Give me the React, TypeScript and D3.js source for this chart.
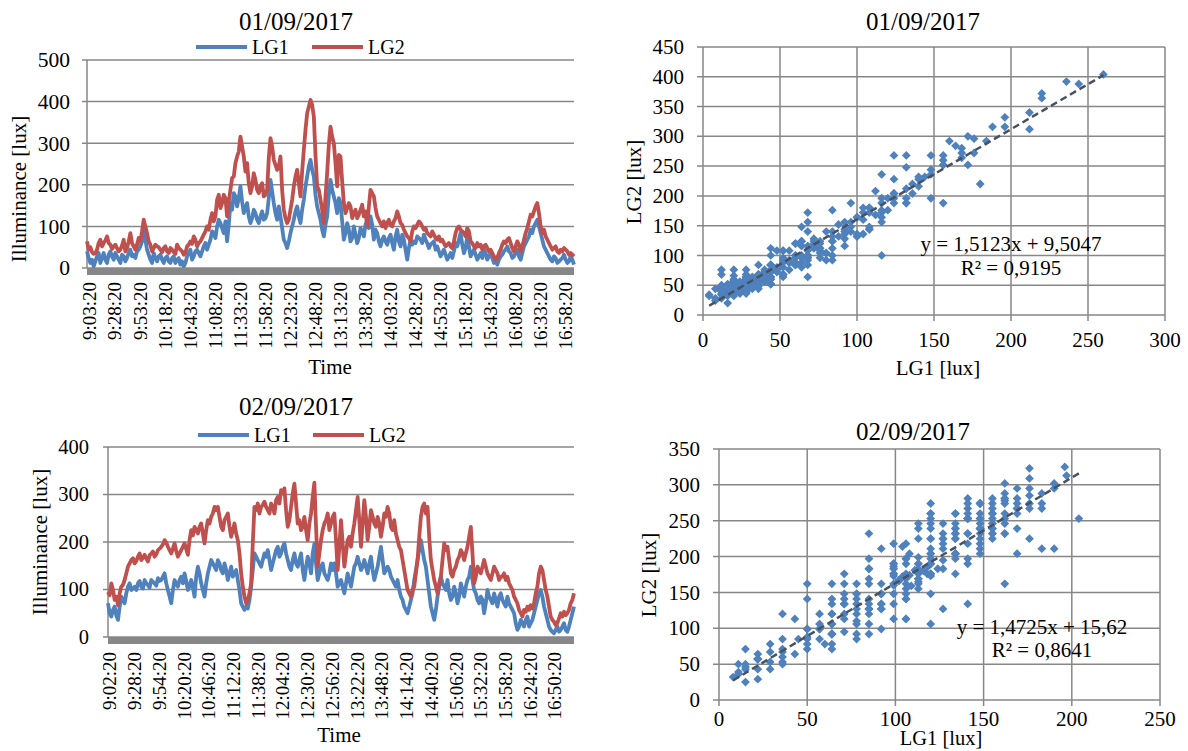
import React, { useEffect } from "react";
import * as d3 from "d3";

const BLUE = "#4F81BD";
const RED = "#C0504D";
const GRID = "#878787";
const TREND = "#48515e";
const FONT = "'Liberation Serif', 'Times New Roman', serif";

// 01/09/2017 readings (lux), one every 1:40 from 9:00:20
const DAY1_START = "9:00:20";
const DAY1_STEP = 100;
const DAY1_LG1 = [
  40, 24, 12, 20, 4, 16, 28, 36, 12, 24, 36, 20, 12, 32, 40, 28, 20, 36, 28, 20,
  12, 32, 28, 16, 24, 36, 44, 28, 32, 24, 40, 44, 52, 64, 92, 68, 44, 32, 20, 12,
  36, 24, 16, 28, 32, 20, 12, 24, 28, 16, 12, 24, 28, 12, 20, 24, 8, 16, 4, 12,
  28, 36, 44, 20, 28, 40, 44, 36, 28, 40, 52, 60, 44, 56, 68, 88, 84, 72, 100, 116,
  108, 96, 84, 112, 64, 104, 156, 140, 180, 172, 148, 168, 196, 160, 132, 144, 156, 124, 108, 120,
  140, 132, 116, 108, 124, 136, 116, 120, 132, 168, 212, 184, 156, 132, 116, 148, 124, 96, 68, 60,
  48, 64, 84, 100, 116, 136, 148, 124, 108, 140, 164, 196, 220, 244, 260, 236, 220, 176, 148, 132,
  116, 92, 76, 104, 124, 176,
  212, 188, 172, 156, 132, 168, 156, 112, 68, 84, 108, 92, 64, 72, 100, 80, 60, 72, 96, 88,
  76, 104, 116, 96, 124, 104, 68, 92, 84, 64, 52, 68, 76, 64, 56, 72, 80, 60, 44, 76,
  92, 64, 52, 80, 68, 44, 20, 48, 68, 56, 64, 60, 76, 72, 68, 60, 80, 68, 60, 48,
  56, 60, 64, 44, 52, 40, 28, 36, 44, 32, 20, 28, 36, 24, 40, 60, 52, 68, 84, 56,
  36, 48, 76, 52, 28, 36, 44, 32, 20, 28, 36, 24, 44, 36, 20, 28, 36, 24, 12, 16,
  8, 20, 28, 32, 40, 44, 52, 40, 36, 24, 28, 36, 44, 28, 20, 36, 52, 60, 68, 76,
  92, 84, 100, 108, 116, 100, 84, 68, 52, 44, 36, 28, 20, 16, 28, 24, 12, 16, 20, 24,
  32, 20, 12, 16, 28, 20, 8,
];
const DAY1_LG2 = [
  64, 44, 50, 38, 34, 36, 44, 60, 68, 52, 60, 66, 76, 60, 56, 46, 52, 56, 48, 40,
  44, 54, 68, 40, 48, 64, 84, 60, 52, 44, 56, 72, 64, 88, 116, 100, 84, 64, 56, 40,
  48, 56, 52, 50, 44, 38, 48, 52, 40, 36, 48, 44, 38, 34, 56, 48, 44, 40, 32, 36,
  52, 56, 64, 58, 76, 68, 52, 60, 64, 72, 80, 88, 100, 92, 116, 132, 112, 124, 164, 176,
  144, 156, 176, 168, 124, 160, 188, 216, 220, 252, 268, 280, 316, 292, 268, 232, 252, 204, 180, 196,
  228, 212, 188, 180, 196, 204, 172, 176, 188, 264, 312, 292, 260, 248, 236, 244, 268, 188, 140, 120,
  108, 116, 140, 164, 196, 220, 236, 204, 172, 232, 284, 332, 372, 388, 404, 392, 364, 272, 196, 188,
  164, 140, 108, 172, 228, 296,
  340, 316, 300, 252, 196, 272, 268, 208, 156, 132, 144, 156, 148, 120, 132, 140, 120, 128, 140, 152,
  124, 136, 100, 148, 188, 180, 172, 144, 124, 116, 108, 100, 112, 96, 108, 116, 104, 100, 112, 120,
  136, 124, 108, 104, 92, 84, 76, 72, 64, 88, 100, 96, 104, 112, 108, 100, 92, 96, 84, 80,
  76, 88, 80, 72, 68, 76, 64, 68, 60, 52, 56, 60, 52, 48, 64, 84, 96, 100, 92, 88,
  84, 76, 96, 88, 64, 60, 52, 48, 60, 52, 56, 44, 52, 56, 48, 40, 44, 36, 28, 20,
  24, 36, 44, 56, 64, 60, 68, 72, 60, 48, 40, 52, 64, 56, 40, 52, 68, 84, 96, 112,
  128, 124, 136, 148, 156, 132, 100, 84, 92, 76, 68, 60, 52, 44, 48, 52, 40, 36, 44, 40,
  48, 44, 40, 32, 36, 32, 28,
];
const DAY1_TICKS = [
  "9:03:20", "9:28:20", "9:53:20", "10:18:20", "10:43:20", "11:08:20", "11:33:20",
  "11:58:20", "12:23:20", "12:48:20", "13:13:20", "13:38:20", "14:03:20", "14:28:20",
  "14:53:20", "15:18:20", "15:43:20", "16:08:20", "16:33:20", "16:58:20",
];
const DAY1_FIT = [1.5123, 9.5047];
const DAY1_EQ = ["y = 1,5123x + 9,5047", "R² = 0,9195"];

// 02/09/2017 readings (lux), one every 1:45 from 9:00:20
const DAY2_START = "9:00:20";
const DAY2_STEP = 105;
const DAY2_LG1 = [
  71, 50, 43, 57, 64, 45, 36, 64, 85, 78, 71, 92, 106, 113, 99, 102, 106, 99, 113, 118,
  106, 102, 120, 113, 109, 104, 120, 116, 113, 108, 124, 118, 120, 127, 134, 113, 99, 85, 71, 99,
  120, 111, 106, 120, 127, 113, 134, 118, 99, 108, 120, 104, 85, 127, 148, 134, 113, 99, 85, 113,
  134, 148, 162, 155, 148, 141, 162, 155, 141, 134, 155, 141, 120, 134, 148, 127, 134, 141, 120, 99,
  71, 64, 57, 64, 60, 78, 106, 141, 176, 169, 162, 155, 148, 162, 176, 169, 183, 162, 141, 155,
  169, 183, 190, 169, 176, 190, 197, 176, 162, 148, 141, 162, 176, 155, 148, 162, 176, 141, 120, 148,
  169, 155, 134, 176, 196, 155, 120, 134, 148, 155, 134, 127, 120, 134, 155, 141,
  155, 134, 106, 113, 120, 106, 92, 113, 134, 120, 106, 127, 148, 155, 169, 155, 141, 148, 162, 148,
  134, 155, 169, 141, 120, 134, 148, 169, 190, 162, 134, 141, 148, 141, 127, 120, 113, 106, 120, 99,
  85, 78, 64, 57, 50, 64, 78, 92, 120, 141, 162, 183, 204, 183, 162, 148, 120, 92, 64, 50,
  36, 57, 85, 106, 127, 113, 106, 99, 120, 92, 78, 85, 106, 92, 71, 85, 113, 99, 85, 106,
  120, 127, 148, 120, 99, 92, 78, 71, 85, 78, 50, 71, 99, 85, 78, 71, 92, 78, 64, 85,
  92, 78, 71, 64, 85, 71, 64, 57, 50, 29, 15, 22, 36, 29, 22, 36, 43, 22, 29, 36,
  50, 64, 78, 92, 99, 85, 64, 50, 36, 22, 15, 11, 8, 15, 22, 11, 15, 22, 29, 15,
  11, 22, 36, 50, 64,
];
const DAY2_LG2 = [
  95, 88, 113, 99, 78, 85, 67, 92, 106, 110, 120, 134, 148, 155, 162, 166, 155, 160, 169, 176,
  162, 167, 173, 165, 159, 172, 176, 180, 169, 174, 183, 186, 190, 195, 204, 199, 190, 183, 176, 186,
  197, 181, 169, 176, 183, 190, 197, 185, 173, 204, 225, 214, 232, 225, 218, 232, 239, 218, 197, 225,
  246, 239, 253, 260, 274, 267, 274, 253, 232, 225, 246, 253, 260, 232, 211, 225, 239, 218, 204, 176,
  134, 106, 85, 71, 78, 92, 113, 197, 274, 267, 281, 260, 274, 278, 285, 274, 267, 260, 281, 274,
  260, 288, 295, 281, 309, 302, 313, 267, 232, 246, 274, 302, 323, 281, 239, 246, 225, 232, 253, 225,
  204, 239, 260, 295, 325, 232, 148, 176, 204, 225, 239, 246, 260, 225, 239, 253,
  260, 204, 141, 190, 246, 197, 148, 176, 204, 211, 190, 218, 239, 267, 295, 246, 190, 239, 288, 253,
  204, 232, 267, 253, 239, 232, 253, 239, 211, 232, 260, 253, 274, 260, 232, 225, 246, 218, 204, 190,
  183, 162, 141, 120, 99, 92, 85, 99, 106, 134, 162, 211, 253, 274, 281, 260, 274, 211, 162, 141,
  120, 106, 92, 113, 127, 162, 197, 183, 190, 162, 134, 127, 141, 148, 162, 169, 183, 176, 162, 176,
  190, 211, 232, 176, 113, 127, 148, 141, 134, 148, 162, 148, 134, 127, 120, 134, 148, 141, 134, 120,
  127, 127, 134, 120, 127, 113, 106, 99, 85, 78, 71, 57, 50, 43, 57, 53, 64, 57, 67, 60,
  71, 92, 106, 134, 148, 141, 120, 99, 85, 64, 43, 36, 32, 25, 29, 39, 50, 43, 53, 46,
  50, 57, 71, 78, 92,
];
const DAY2_TICKS = [
  "9:02:20", "9:28:20", "9:54:20", "10:20:20", "10:46:20", "11:12:20", "11:38:20",
  "12:04:20", "12:30:20", "12:56:20", "13:22:20", "13:48:20", "14:14:20", "14:40:20",
  "15:06:20", "15:32:20", "15:58:20", "16:24:20", "16:50:20",
];
const DAY2_FIT = [1.4725, 15.62];
const DAY2_EQ = ["y = 1,4725x + 15,62", "R² = 0,8641"];

const toSec = (s: string) => {
  const [h, m, sec] = s.split(":").map(Number);
  return h * 3600 + m * 60 + sec;
};

function LineChart(p: any) {
  const t0 = toSec(p.start);
  const t1 = t0 + p.step * (p.lg1.length - 1);
  const x = d3.scaleLinear().domain([t0, t1]).range([p.l, p.r]);
  const y = d3.scaleLinear().domain([0, p.yMax]).range([p.b, p.t]);
  const line = d3.line<number>().x((_, i) => x(t0 + i * p.step)).y((d) => y(d));
  const yTicks = d3.range(0, p.yMax + 1, 100);

  return (
    <g fontFamily={FONT} fill="#000">
      <text x={p.titleX} y={p.titleY} textAnchor="middle" fontSize={25}>{p.title}</text>

      {/* legend */}
      <line x1={p.sw1[0]} x2={p.sw1[1]} y1={p.legendY} y2={p.legendY} stroke={BLUE} strokeWidth={4} />
      <text x={p.sw1[1] + 5} y={p.legendY} dy="0.33em" fontSize={20}>LG1</text>
      <line x1={p.sw2[0]} x2={p.sw2[1]} y1={p.legendY} y2={p.legendY} stroke={RED} strokeWidth={4} />
      <text x={p.sw2[1] + 5} y={p.legendY} dy="0.33em" fontSize={20}>LG2</text>

      {yTicks.map((v) => (
        <g key={v}>
          <line x1={p.l - 5} x2={p.r} y1={y(v)} y2={y(v)} stroke={GRID} strokeWidth={1.5} />
          <text x={p.l - p.tickGap} y={y(v)} dy="0.34em" textAnchor="end" fontSize={p.tickSize}>{v}</text>
        </g>
      ))}
      <line x1={p.l} x2={p.l} y1={p.t} y2={p.b} stroke={GRID} strokeWidth={1.5} />

      <path d={line(p.lg1) || ""} fill="none" stroke={BLUE} strokeWidth={3.8} strokeLinejoin="round" />
      <path d={line(p.lg2) || ""} fill="none" stroke={RED} strokeWidth={3.8} strokeLinejoin="round" />

      <rect x={p.l} y={p.b} width={p.r - p.l} height={7} fill={GRID} />

      {p.ticks.map((t: string) => (
        <text
          key={t}
          transform={`translate(${x(toSec(t))},${p.labelTop}) rotate(-90)`}
          textAnchor="end"
          dy="0.34em"
          fontSize={p.labelSize}
        >
          {t}
        </text>
      ))}

      <text x={p.timeX} y={p.timeY} textAnchor="middle" fontSize={21}>Time</text>
      <text
        transform={`translate(${p.yTitleX},${p.yTitleY}) rotate(-90)`}
        textAnchor="middle"
        dy="0.34em"
        fontSize={21}
      >
        Illuminance [lux]
      </text>
    </g>
  );
}

function ScatterChart(p: any) {
  const x = d3.scaleLinear().domain([0, p.xMax]).range([p.l, p.r]);
  const y = d3.scaleLinear().domain([0, p.yMax]).range([p.b, p.t]);
  const xTicks = d3.range(0, p.xMax + 1, 50);
  const yTicks = d3.range(0, p.yMax + 1, 50);
  const [xmin, xmax] = d3.extent(p.xs as number[]) as [number, number];
  const fit = (v: number) => p.fit[0] * v + p.fit[1];
  const r = 4.4;
  const diamond = `M0,${-r}L${r},0L0,${r}L${-r},0Z`;

  return (
    <g fontFamily={FONT} fill="#000">
      <text x={p.titleX} y={p.titleY} textAnchor="middle" fontSize={25}>{p.title}</text>

      {yTicks.map((v) => (
        <g key={"y" + v}>
          <line x1={p.l - 6} x2={p.r} y1={y(v)} y2={y(v)} stroke={GRID} strokeWidth={1.5} />
          <text x={p.l - 19} y={y(v)} dy="0.34em" textAnchor="end" fontSize={21}>{v}</text>
        </g>
      ))}
      {xTicks.map((v) => (
        <g key={"x" + v}>
          <line x1={x(v)} x2={x(v)} y1={p.t} y2={p.b + 6} stroke={GRID} strokeWidth={1.5} />
          <text x={x(v)} y={p.xLabelY} textAnchor="middle" fontSize={21}>{v}</text>
        </g>
      ))}

      {p.xs.map((v: number, i: number) => (
        <path key={i} d={diamond} transform={`translate(${x(v)},${y(p.ys[i])})`} fill={BLUE} />
      ))}

      <line
        x1={x(xmin)} y1={y(fit(xmin))} x2={x(xmax)} y2={y(fit(xmax))}
        stroke={TREND} strokeWidth={2.5} strokeDasharray="7 4"
      />

      <text x={p.eqX} y={p.eqY[0]} textAnchor="middle" fontSize={21}>{p.eq[0]}</text>
      <text x={p.eqX} y={p.eqY[1]} textAnchor="middle" fontSize={21}>{p.eq[1]}</text>

      <text x={p.xTitleX} y={p.xTitleY} textAnchor="middle" fontSize={p.xTitleSize || 21}>LG1 [lux]</text>
      <text
        transform={`translate(${p.yTitleX},${p.yTitleY}) rotate(-90)`}
        textAnchor="middle"
        dy="0.34em"
        fontSize={21}
      >
        LG2 [lux]
      </text>
    </g>
  );
}

export default function App() {
  useEffect(() => {
    document.body.style.margin = "0";
  }, []);

  return (
    <svg width={1188} height={751} style={{ display: "block", background: "#fff" }}>
      <LineChart
        title="01/09/2017" lg1={DAY1_LG1} lg2={DAY1_LG2} ticks={DAY1_TICKS}
        start={DAY1_START} step={DAY1_STEP} yMax={500}
        l={87} r={574} t={60} b={268}
        titleX={296} titleY={30} legendY={47} sw1={[196, 247]} sw2={[312, 363]}
        tickSize={21.5} tickGap={17} labelTop={282} labelSize={19}
        timeX={330} timeY={374} yTitleX={19} yTitleY={189}
      />
      <LineChart
        title="02/09/2017" lg1={DAY2_LG1} lg2={DAY2_LG2} ticks={DAY2_TICKS}
        start={DAY2_START} step={DAY2_STEP} yMax={400}
        l={108} r={574} t={447} b={637}
        titleX={296} titleY={415} legendY={435} sw1={[198, 249]} sw2={[313, 364]}
        tickSize={20.5} tickGap={19} labelTop={652} labelSize={19}
        timeX={339} timeY={742} yTitleX={40} yTitleY={542}
      />
      <ScatterChart
        title="01/09/2017" xs={DAY1_LG1} ys={DAY1_LG2} fit={DAY1_FIT} eq={DAY1_EQ}
        xMax={300} yMax={450} l={703} r={1165} t={47} b={315}
        titleX={923} titleY={30} xLabelY={347} xTitleX={938} xTitleY={375}
        yTitleX={634} yTitleY={182} eqX={1011} eqY={[251, 275]}
      />
      <ScatterChart
        title="02/09/2017" xs={DAY2_LG1} ys={DAY2_LG2} fit={DAY2_FIT} eq={DAY2_EQ}
        xMax={250} yMax={350} l={719} r={1160} t={449} b={700}
        titleX={913} titleY={440} xLabelY={726} xTitleX={941} xTitleY={745} xTitleSize={20.5}
        yTitleX={649} yTitleY={575} eqX={1042} eqY={[634, 657]}
      />
    </svg>
  );
}
